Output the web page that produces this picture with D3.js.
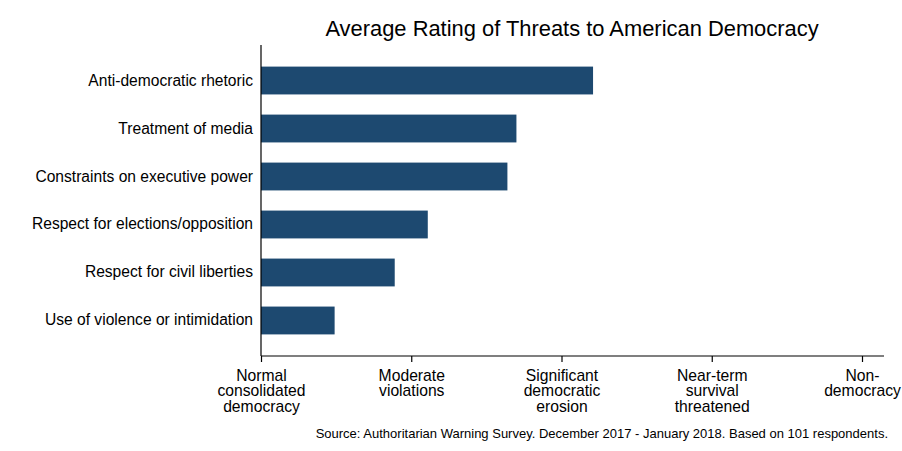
<!DOCTYPE html>
<html>
<head>
<meta charset="utf-8">
<script src="https://cdn.jsdelivr.net/npm/d3@7"></script>
<style>
  body { margin: 0; background: #fff; }
  svg { display: block; font-family: "Liberation Sans", Arial, sans-serif; }
</style>
</head>
<body>
<div id="chart"></div>
<script>
var categories = [
  "Anti-democratic rhetoric",
  "Treatment of media",
  "Constraints on executive power",
  "Respect for elections/opposition",
  "Respect for civil liberties",
  "Use of violence or intimidation"
];
var ratings = [2.21, 1.70, 1.64, 1.11, 0.89, 0.49];
var tickValues = [0, 1, 2, 3, 4];
var tickLabels = [
  ["Normal", "consolidated", "democracy"],
  ["Moderate", "violations"],
  ["Significant", "democratic", "erosion"],
  ["Near-term", "survival", "threatened"],
  ["Non-", "democracy"]
];

var w = 902, h = 451;
var svg = d3.select("#chart").append("svg")
    .attr("width", w)
    .attr("height", h);

var x = d3.scaleLinear().domain([0, 4]).range([261, 862]);
var y = d3.scaleBand().domain(categories).range([45, 356])
    .paddingInner(0.42).paddingOuter(0.45);

var data = categories.map(function(c, i){ return {name: c, value: ratings[i]}; });

// title
svg.append("text")
    .attr("x", 572)
    .attr("y", 36)
    .attr("text-anchor", "middle")
    .style("font-size", "21.9px")
    .attr("fill", "#000")
    .text("Average Rating of Threats to American Democracy");

// bars
svg.selectAll(".bar")
    .data(data)
    .enter().append("rect")
    .attr("class", "bar")
    .attr("x", x(0))
    .attr("y", function(d){ return y(d.name); })
    .attr("width", function(d){ return x(d.value) - x(0); })
    .attr("height", y.bandwidth())
    .attr("fill", "#1d4970");

// y axis (labels only, no ticks)
var yAxis = svg.append("g")
    .attr("transform", "translate(" + x(0) + ",0)")
    .call(d3.axisLeft(y).tickSize(0).tickPadding(8));
yAxis.select(".domain").remove();
yAxis.selectAll("text")
    .style("font-size", "15.6px")
    .style("font-family", "'Liberation Sans', Arial, sans-serif")
    .attr("fill", "#000");
svg.append("line")
    .attr("x1", x(0)).attr("x2", x(0))
    .attr("y1", y.range()[0]).attr("y2", y.range()[1])
    .attr("stroke", "#000").attr("stroke-width", 1.2);

// x axis
var xAxis = svg.append("g")
    .attr("transform", "translate(0," + y.range()[1] + ")")
    .call(d3.axisBottom(x).tickValues(tickValues).tickSize(6).tickSizeOuter(0).tickFormat(""));
xAxis.select(".domain").remove();
xAxis.selectAll(".tick line").attr("stroke", "#000").attr("stroke-width", 1.2);
xAxis.append("line")
    .attr("x1", x(0)).attr("x2", x(4) + 22)
    .attr("stroke", "#000").attr("stroke-width", 1.2);

xAxis.selectAll(".tick").each(function(d, i){
  var t = d3.select(this).append("text")
      .attr("text-anchor", "middle")
      .attr("fill", "#000")
      .style("font-size", "15.7px")
      .attr("y", 25);
  tickLabels[i].forEach(function(s, j){
    t.append("tspan").attr("x", 0).attr("dy", j === 0 ? 0 : 15.3).text(s);
  });
});

// source note
svg.append("text")
    .attr("x", 888)
    .attr("y", 438)
    .attr("text-anchor", "end")
    .style("font-size", "13px")
    .attr("fill", "#000")
    .text("Source: Authoritarian Warning Survey. December 2017 - January 2018. Based on 101 respondents.");
</script>
</body>
</html>
